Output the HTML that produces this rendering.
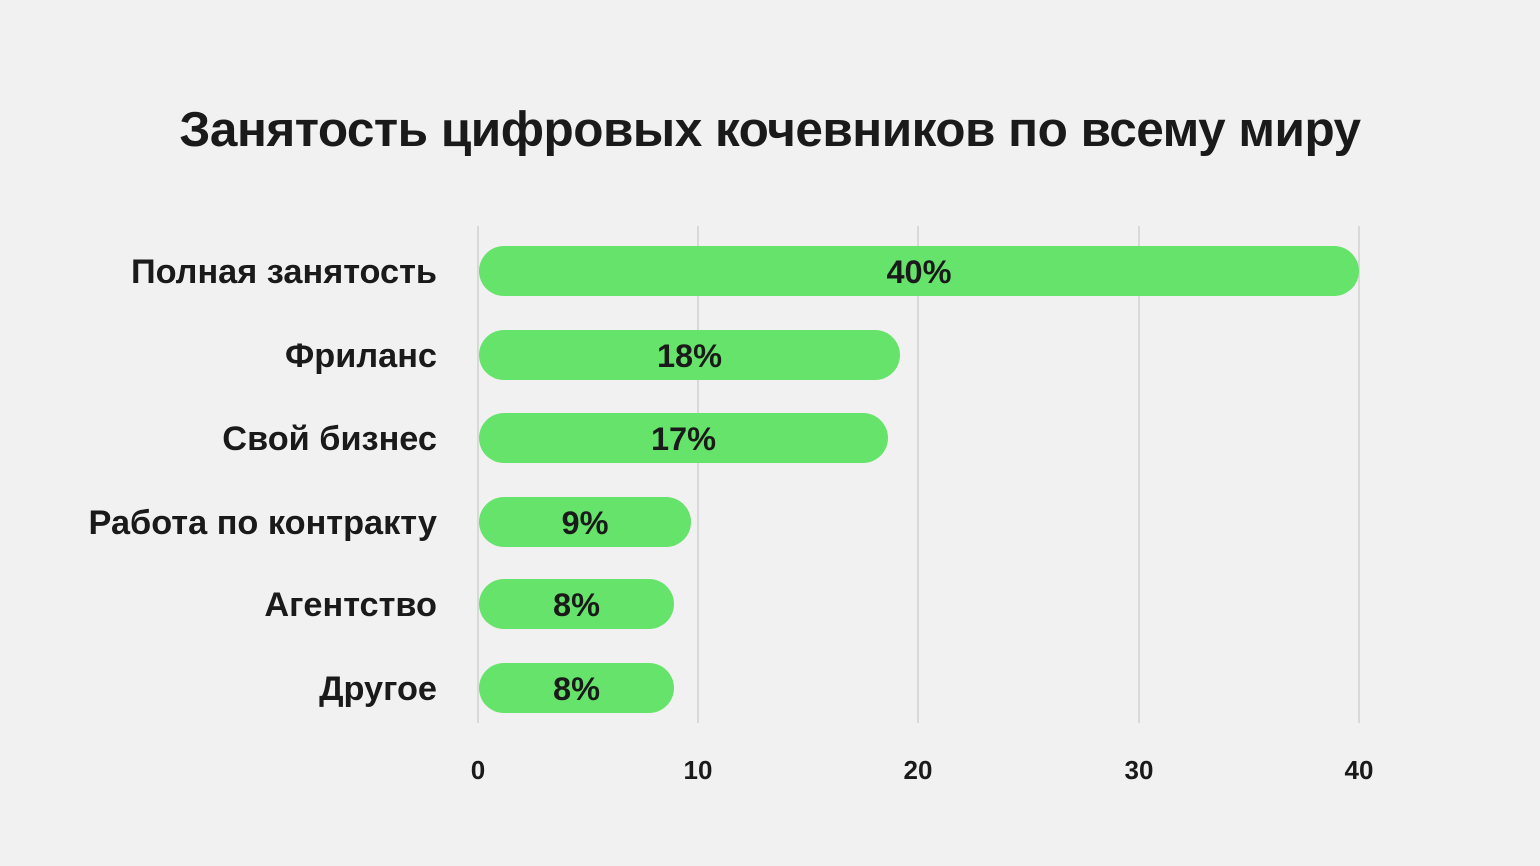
<!DOCTYPE html>
<html><head><meta charset="utf-8"><style>
body{margin:0;width:1540px;height:866px;background:#f1f1f1;position:relative;overflow:hidden;font-family:"Liberation Sans","DejaVu Sans",sans-serif;color:#1a1a1a}
.t{position:absolute;left:0;width:1540px;top:100px;text-align:center;font-size:49.5px;font-weight:bold;line-height:60px;letter-spacing:-0.5px}
.g{position:absolute;top:226px;height:497px;width:2px;background:#d9d9d9}
.b{position:absolute;left:479px;height:50px;border-radius:25px;background:#66e36a;font-weight:bold;font-size:32.5px;line-height:52px;text-align:center}
.l{position:absolute;right:1103px;font-weight:bold;font-size:34.3px;line-height:52px;text-align:right;white-space:nowrap}
.x{position:absolute;top:755px;width:60px;margin-left:-30px;text-align:center;font-weight:bold;font-size:26px}
</style></head><body>
<div class="t">Занятость цифровых кочевников по всему миру</div>
<div class="g" style="left:477px"></div><div class="g" style="left:697px"></div><div class="g" style="left:917px"></div><div class="g" style="left:1138px"></div><div class="g" style="left:1358px"></div>
<div class="b" style="top:246px;width:880px">40%</div>
<div class="b" style="top:330px;width:421px">18%</div>
<div class="b" style="top:413px;width:409px">17%</div>
<div class="b" style="top:497px;width:212px">9%</div>
<div class="b" style="top:579px;width:195px">8%</div>
<div class="b" style="top:663px;width:195px">8%</div>
<div class="l" style="top:246px">Полная занятость</div>
<div class="l" style="top:330px">Фриланс</div>
<div class="l" style="top:413px">Свой бизнес</div>
<div class="l" style="top:497px">Работа по контракту</div>
<div class="l" style="top:579px">Агентство</div>
<div class="l" style="top:663px">Другое</div>
<div class="x" style="left:478px">0</div><div class="x" style="left:698px">10</div><div class="x" style="left:918px">20</div><div class="x" style="left:1139px">30</div><div class="x" style="left:1359px">40</div>
</body></html>
